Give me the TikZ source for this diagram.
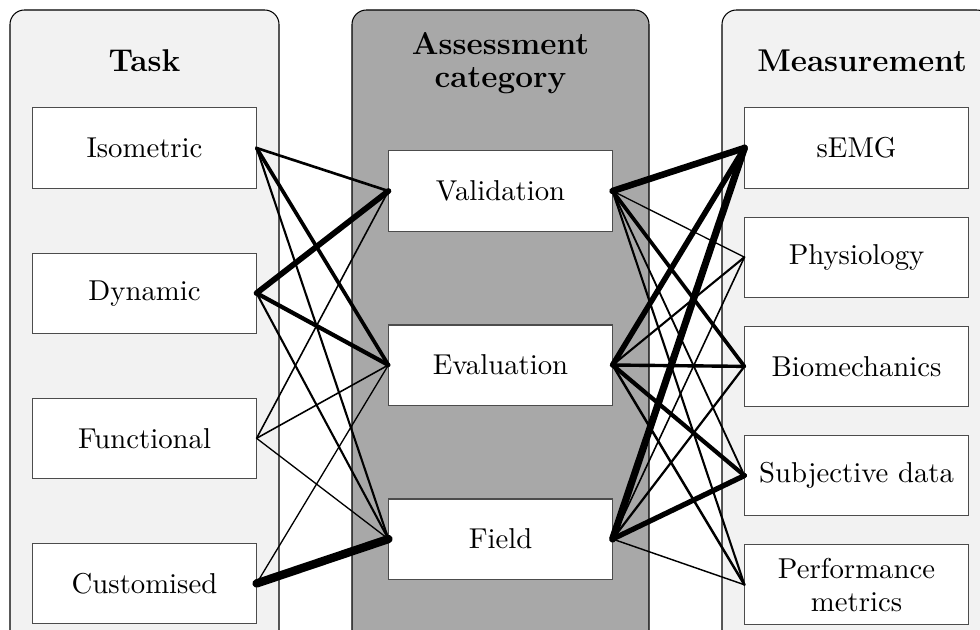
\documentclass[tikz,border=0pt]{standalone}
\usepackage{tikz}
\usetikzlibrary{positioning}

\begin{document}
\begin{tikzpicture}[
        x=0.381pt, y=-0.381pt,
        panel/.style={draw=black, rounded corners=5.5pt, line width=0.4pt},
        item/.style={rectangle, draw=black!70, fill=white, minimum width=85pt, minimum height=30.5pt, align=center, font=\fontsize{10.95}{12.6}\selectfont},
        heading/.style={align=center, font=\fontsize{12}{12.6}\selectfont\bfseries},
        link/.style={line width=#1, line cap=round}
    ]
    \clip (0,0) rectangle (980,630);
    \draw[panel, fill=black!5] (10,10) rectangle (279,650);
    \draw[panel, fill=black!34] (352,10) rectangle (649,650);
    \draw[panel, fill=black!5] (722,10) rectangle (991,650);
    % task column
    \node[heading] (task) at (144.5,61) {Task};
    \node[item] (iso) at (144.5,148) {Isometric};
    \node[item, below=24.4pt of iso] (dyn) {Dynamic};
    \node[item, below=24.4pt of dyn] (fun) {Functional};
    \node[item, below=24.4pt of fun] (cus) {Customised};
    % assessment column
    \node[heading] (assess) at (500.5,63) {Assessment\\category};
    \node[item] (val) at (500.5,191) {Validation};
    \node[item, below=35.4pt of val] (eva) {Evaluation};
    \node[item, below=35.4pt of eva] (fld) {Field};
    % measurement column
    \node[heading] (meas) at (862,61) {Measurement};
    \node[item] (semg) at (856.5,148) {sEMG};
    \node[item, below=10.7pt of semg] (phys) {Physiology};
    \node[item, below=10.7pt of phys] (bio) {Biomechanics};
    \node[item, below=10.7pt of bio] (subj) {Subjective data};
    \node[item, below=10.7pt of subj] (perf) {Performance\\metrics};
    % task to assessment
    \draw[link=1.0pt] (iso.east) -- (val.west);
    \draw[link=1.4pt] (iso.east) -- (eva.west);
    \draw[link=0.8pt] (iso.east) -- (fld.west);
    \draw[link=2.2pt] (dyn.east) -- (val.west);
    \draw[link=1.6pt] (dyn.east) -- (eva.west);
    \draw[link=0.8pt] (dyn.east) -- (fld.west);
    \draw[link=0.6pt] (fun.east) -- (val.west);
    \draw[link=0.6pt] (fun.east) -- (eva.west);
    \draw[link=0.5pt] (fun.east) -- (fld.west);
    \draw[link=0.5pt] (cus.east) -- (eva.west);
    \draw[link=3.2pt] (cus.east) -- (fld.west);
    % assessment to measurement
    \draw[link=2.5pt] (val.east) -- (semg.west);
    \draw[link=0.5pt] (val.east) -- (phys.west);
    \draw[link=1.4pt] (val.east) -- (bio.west);
    \draw[link=0.7pt] (val.east) -- (subj.west);
    \draw[link=0.8pt] (val.east) -- (perf.west);
    \draw[link=2.1pt] (eva.east) -- (semg.west);
    \draw[link=0.8pt] (eva.east) -- (phys.west);
    \draw[link=1.3pt] (eva.east) -- (bio.west);
    \draw[link=1.6pt] (eva.east) -- (subj.west);
    \draw[link=0.95pt] (eva.east) -- (perf.west);
    \draw[link=2.7pt] (fld.east) -- (semg.west);
    \draw[link=0.6pt] (fld.east) -- (phys.west);
    \draw[link=0.85pt] (fld.east) -- (bio.west);
    \draw[link=2.0pt] (fld.east) -- (subj.west);
    \draw[link=0.55pt] (fld.east) -- (perf.west);
\end{tikzpicture}
\end{document}
